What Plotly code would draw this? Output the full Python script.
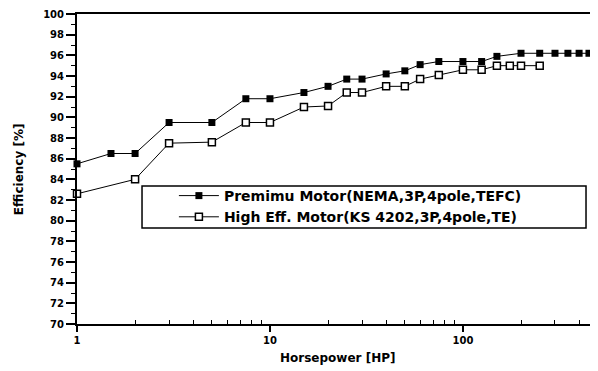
import plotly.graph_objects as go

premium_hp = [1, 1.5, 2, 3, 5, 7.5, 10, 15, 20, 25, 30, 40, 50, 60, 75, 100, 125, 150, 200, 250, 300, 350, 400, 450, 500]
premium_eff = [85.5, 86.5, 86.5, 89.5, 89.5, 91.8, 91.8, 92.4, 93.0, 93.7, 93.7, 94.2, 94.5, 95.1, 95.4, 95.4, 95.4, 95.9, 96.2, 96.2, 96.2, 96.2, 96.2, 96.2, 96.2]

higheff_hp = [1, 2, 3, 5, 7.5, 10, 15, 20, 25, 30, 40, 50, 60, 75, 100, 125, 150, 175, 200, 250]
higheff_eff = [82.6, 84.0, 87.5, 87.6, 89.5, 89.5, 91.0, 91.1, 92.4, 92.4, 93.0, 93.0, 93.7, 94.1, 94.6, 94.6, 95.0, 95.0, 95.0, 95.0]

series_names = ["Premimu Motor(NEMA,3P,4pole,TEFC)", "High Eff. Motor(KS 4202,3P,4pole,TE)"]
y_ticks = list(range(70, 101, 2))
x_ticks = [1, 10, 100]
x_minor = [2, 3, 4, 5, 6, 7, 8, 9, 20, 30, 40, 50, 60, 70, 80, 90, 200, 300, 400, 500]

font_main = "DejaVu Sans"

fig = go.Figure()
fig.add_trace(go.Scatter(
    x=premium_hp, y=premium_eff, mode="lines+markers", name=series_names[0],
    line=dict(color="black", width=1),
    marker=dict(symbol="square", size=7, color="black"),
    cliponaxis=False,
))
fig.add_trace(go.Scatter(
    x=higheff_hp, y=higheff_eff, mode="lines+markers", name=series_names[1],
    line=dict(color="black", width=1),
    marker=dict(symbol="square", size=7, color="white", line=dict(color="black", width=1.5)),
    cliponaxis=False,
))

# page body has an 8px margin; size the figure so it fills the 598x371 window
fig.update_layout(
    width=590, height=363,
    margin=dict(l=69, r=0, t=6, b=47, autoexpand=False),
    paper_bgcolor="white", plot_bgcolor="white",
    font=dict(family=font_main, color="black", size=10),
    showlegend=True,
    legend=dict(
        x=0.186, y=0.4645, xanchor="left", yanchor="top",
        borderwidth=0, bgcolor="rgba(0,0,0,0)",
        font=dict(family=font_main, size=14, color="black", weight="bold"),
        itemwidth=40, tracegroupgap=0,
    ),
    shapes=[
        dict(type="rect", xref="paper", yref="paper", x0=0.1248, x1=0.977, y0=0.3097, y1=0.445,
             line=dict(color="black", width=1.5), fillcolor="white", layer="below"),
    ],
    xaxis=dict(
        type="log", range=[0, 2.7], automargin=False,
        tickvals=x_ticks, ticktext=[str(v) for v in x_ticks],
        ticks="outside", ticklen=6, tickwidth=1.5, tickcolor="black",
        showline=True, linecolor="black", linewidth=2,
        mirror=True, showgrid=False, zeroline=False,
        tickfont=dict(family=font_main, size=10, weight="bold"),
        minor=dict(ticks="inside", ticklen=4, tickcolor="black", tickwidth=1,
                   tickvals=x_minor, showgrid=False),
    ),
    yaxis=dict(
        range=[70, 100], automargin=False,
        tickvals=y_ticks, ticktext=[str(v) for v in y_ticks],
        ticks="outside", ticklen=9, tickwidth=1.5, tickcolor="black",
        showline=True, linecolor="black", linewidth=2,
        showgrid=False, zeroline=False,
        tickfont=dict(family=font_main, size=10, weight="bold"),
        minor=dict(ticks="outside", ticklen=4, tickcolor="black", tickwidth=1, dtick=1, showgrid=False),
    ),
    annotations=[
        dict(text="Horsepower [HP]", xref="paper", yref="paper", x=0.5, y=-0.11,
             xanchor="center", yanchor="middle", showarrow=False,
             font=dict(family=font_main, size=12, weight="bold")),
        dict(text="Efficiency [%]", xref="paper", yref="paper", x=-0.111, y=0.5,
             xanchor="center", yanchor="middle", textangle=-90, showarrow=False,
             font=dict(family=font_main, size=12, weight="bold")),
    ],
)

fig.write_html("out.html")
